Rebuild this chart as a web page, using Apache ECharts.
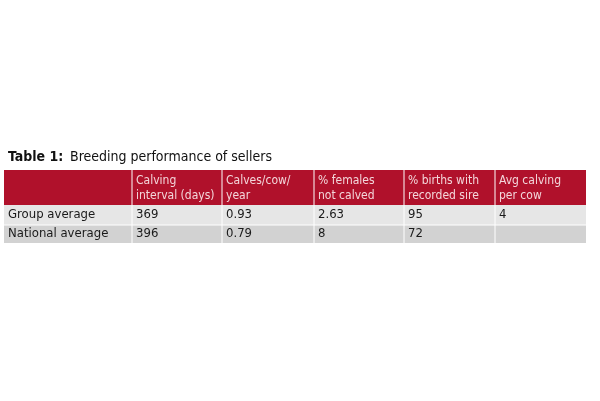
<!DOCTYPE html>
<html><head><meta charset="utf-8">
<script src="https://cdn.jsdelivr.net/npm/echarts@6/dist/echarts.min.js"></script>
<style>html,body{margin:0;padding:0;background:#fff}#c{width:600px;height:401px}</style>
</head><body><div id="c"></div>
<script>
const titleBold = "Table 1:";
const titleRest = " Breeding performance of sellers";
const headers = ["", "Calving\ninterval (days)", "Calves/cow/\nyear", "% females\nnot calved", "% births with\nrecorded sire", "Avg calving\nper cow"];
const rowLabels = ["Group average", "National average"];
const rowValues = [["369", "0.93", "2.63", "95", "4"], ["396", "0.79", "8", "72", ""]];

const colX = [4, 132, 222, 314, 404, 495, 586];
const headTop = 170, headBot = 205;
const rowY = [205, 225, 243];
const rowBg = ["#e6e6e6", "#d2d2d2"];
const font = "'DejaVu Sans Condensed', 'Liberation Sans Narrow', sans-serif";
const g = [];
g.push({type:'text', left:8, top:150, style:{text:titleBold, font:"bold 14px "+font, fill:"#111"}});
g.push({type:'text', left:66, top:150, style:{text:titleRest, font:"14px "+font, fill:"#111"}});
g.push({type:'rect', shape:{x:colX[0], y:headTop, width:colX[6]-colX[0], height:headBot-headTop}, style:{fill:"#b0112b"}});
headers.forEach((h,i)=>{
  if(h) g.push({type:'text', x:colX[i]+4, y:headTop+3, style:{text:h, font:"12px "+font, fill:"#f3d6da", lineHeight:15}});
});
rowLabels.forEach((lab,r)=>{
  g.push({type:'rect', shape:{x:colX[0], y:rowY[r], width:colX[6]-colX[0], height:rowY[r+1]-rowY[r]}, style:{fill:rowBg[r]}});
  const cells=[lab].concat(rowValues[r]);
  cells.forEach((t,i)=>{
    g.push({type:'text', x:colX[i]+4, y:(rowY[r]+rowY[r+1])/2, style:{text:t, font:"13px "+font, fill:"#1a1a1a", verticalAlign:'middle'}});
  });
});
for(let i=1;i<6;i++) g.push({type:'line', shape:{x1:colX[i], y1:headTop, x2:colX[i], y2:rowY[2]}, style:{stroke:"#fff", lineWidth:1}});
g.push({type:'line', shape:{x1:colX[0], y1:rowY[1], x2:colX[6], y2:rowY[1]}, style:{stroke:"#fff", lineWidth:1}});
const chart = echarts.init(document.getElementById('c'));
chart.setOption({graphic:g});
</script></body></html>
